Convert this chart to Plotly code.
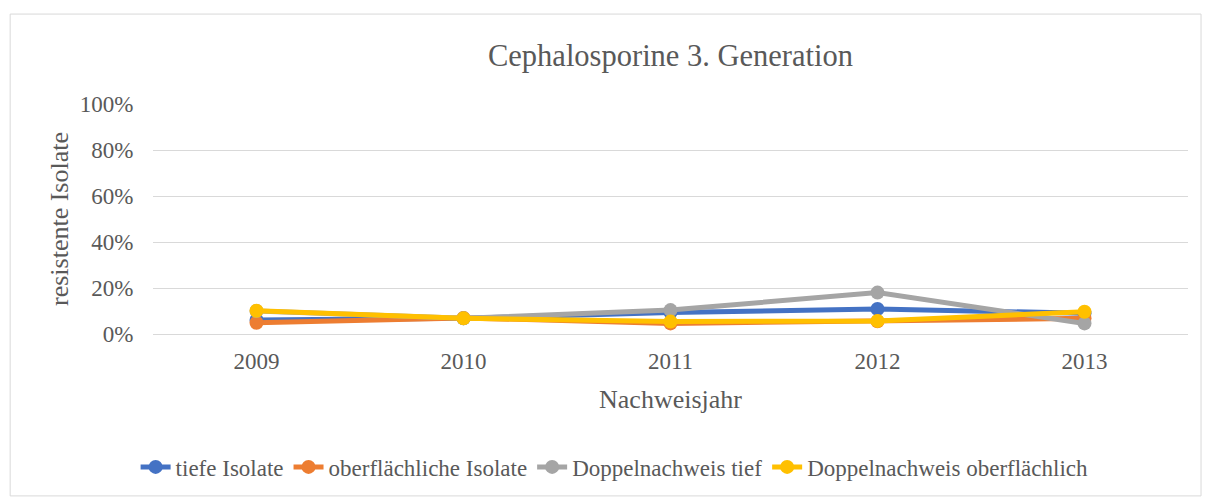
import plotly.graph_objects as go

years = ["2009", "2010", "2011", "2012", "2013"]
tiefe = [0.061, 0.068, 0.093, 0.109, 0.090]
oberflaechlich = [0.049, 0.070, 0.046, 0.055, 0.068]
doppel_tief = [0.100, 0.068, 0.104, 0.180, 0.046]
doppel_ober = [0.101, 0.068, 0.054, 0.057, 0.097]

names = ["tiefe Isolate", "oberflächliche Isolate", "Doppelnachweis tief", "Doppelnachweis oberflächlich"]
colors = ["#4472C4", "#ED7D31", "#A5A5A5", "#FFC000"]
series = [tiefe, oberflaechlich, doppel_tief, doppel_ober]

fig = go.Figure()
for n, c, s in zip(names, colors, series):
    fig.add_trace(go.Scatter(x=years, y=s, name=n, mode="lines+markers",
                             line=dict(color=c, width=5),
                             marker=dict(color=c, size=14)))

font = dict(family="Liberation Serif, Times New Roman, serif", color="#595959")
fig.update_layout(
    width=1212, height=498,
    margin=dict(l=145, r=32, t=96, b=172, autoexpand=False),
    paper_bgcolor="white", plot_bgcolor="white",
    font=dict(size=23, **font),
    title=dict(text="Cephalosporine 3. Generation", x=0.5, xref="paper", xanchor="center",
               y=1 - 47 / 498, yref="container", yanchor="middle", font=dict(size=30.5, **font)),
    xaxis=dict(type="category", range=[-0.5, 4.5], showgrid=False, showline=True,
               linecolor="#D9D9D9", linewidth=1, ticks="outside", ticklen=6,
               tickcolor="rgba(0,0,0,0)", tickfont=dict(size=23, **font),
               title=dict(text="Nachweisjahr", font=dict(size=26, **font), standoff=17)),
    yaxis=dict(range=[0, 1], dtick=0.2, tickformat=".0%", showgrid=True, gridcolor="#D9D9D9",
               gridwidth=1, zeroline=False, showline=False, ticks="outside", ticklen=14,
               tickcolor="rgba(0,0,0,0)", tickfont=dict(size=23, **font),
               title=dict(text="resistente Isolate", font=dict(size=26, **font), standoff=3)),
    legend=dict(orientation="h", x=0.446, xanchor="center",
                y=-0.578, yanchor="middle",
                font=dict(size=23, **font), itemwidth=30, tracegroupgap=0),
    showlegend=True,
)
fig.add_shape(type="rect", xref="paper", yref="paper", x0=-0.138, x1=1.0126, y0=-0.704, y1=1.391,
              line=dict(color="#D9D9D9", width=1), fillcolor="rgba(0,0,0,0)", layer="below")
fig.write_html("out.html")
